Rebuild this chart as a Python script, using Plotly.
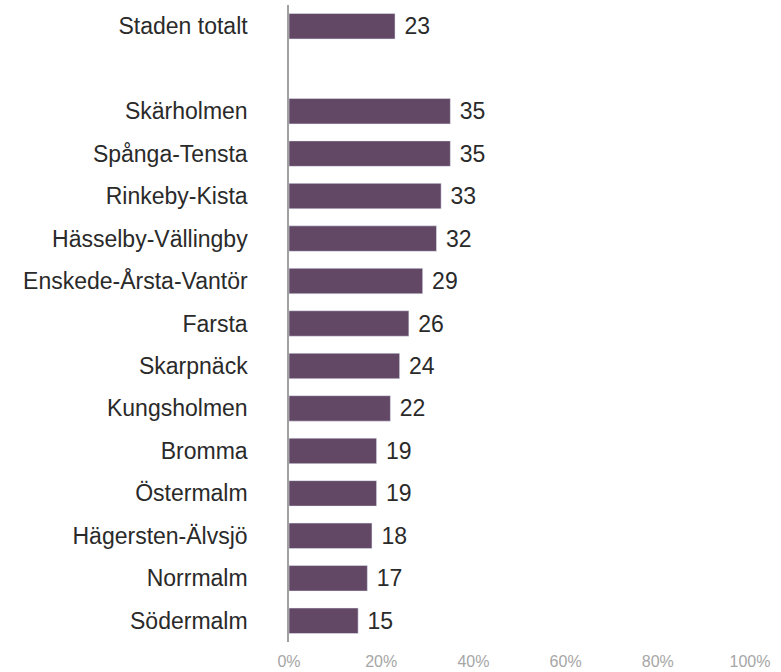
import plotly.graph_objects as go

# categories, top to bottom ("" is the blank spacer row)
areas = ["Staden totalt", "", "Skärholmen", "Spånga-Tensta", "Rinkeby-Kista",
         "Hässelby-Vällingby", "Enskede-Årsta-Vantör", "Farsta", "Skarpnäck",
         "Kungsholmen", "Bromma", "Östermalm", "Hägersten-Älvsjö",
         "Norrmalm", "Södermalm"]
values = [23, None, 35, 35, 33, 32, 29, 26, 24, 22, 19, 19, 18, 17, 15]
tick_vals = [0, 20, 40, 60, 80, 100]
tick_text = ["0%", "20%", "40%", "60%", "80%", "100%"]

labels = [" " + str(v) if v is not None else "" for v in values]

fig = go.Figure()
fig.add_trace(go.Bar(
    y=areas,
    x=values,
    orientation="h",
    marker_color="#634865",
    text=labels,
    textposition="outside",
    cliponaxis=False,
    textfont=dict(size=23, color="#2a2a2a", family="Liberation Sans, Arial"),
    hoverinfo="skip",
))

fig.update_layout(
    width=781, height=672,
    margin=dict(l=289, r=31, t=5, b=30),
    plot_bgcolor="white",
    paper_bgcolor="white",
    showlegend=False,
    bargap=0.4,
    font=dict(family="Liberation Sans, Arial"),
    uniformtext=dict(minsize=23, mode="show"),
)
fig.update_xaxes(
    range=[0, 100],
    tickvals=tick_vals,
    ticktext=tick_text,
    showgrid=False,
    zeroline=False,
    automargin=False,
    ticks="outside",
    ticklen=5,
    tickcolor="rgba(0,0,0,0)",
    tickfont=dict(size=16, color="#a6a6a6"),
)
fig.update_yaxes(
    categoryorder="array",
    categoryarray=areas,
    autorange="reversed",
    automargin=False,
    showline=True,
    linecolor="#a0a0a0",
    linewidth=1.5,
    showgrid=False,
    ticks="outside",
    ticklen=35,
    tickcolor="rgba(0,0,0,0)",
    tickfont=dict(size=23, color="#2a2a2a"),
)

# page body has a default 8px margin; drop it so the chart sits at 0,0
fig.write_html("out.html", config={"displayModeBar": False},
               post_script="document.body.style.margin='0';")
